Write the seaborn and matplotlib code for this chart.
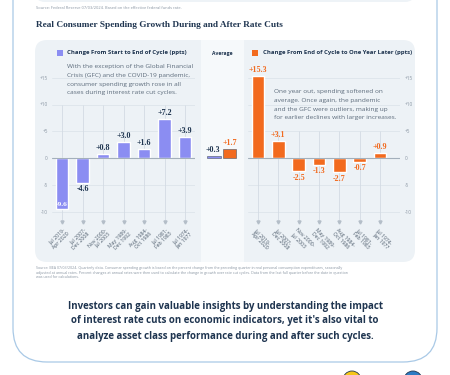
import matplotlib
matplotlib.use("Agg")
import matplotlib.pyplot as plt
from matplotlib.patches import FancyBboxPatch, Rectangle, Circle
import seaborn as sns
import pandas as pd
import numpy as np

# ---------------- data ----------------
cycle_start = ["Jul 2019-", "Jul 2007-", "Nov 2000-", "May 1989-", "Aug 1984-", "Jul 1981-", "Jul 1974-"]
cycle_end = ["Apr 2020", "Dec 2008", "Jul 2003", "Dec 1992", "Oct 1986", "Feb 1983", "Jan 1977"]
during_cycle = [-9.6, -4.6, 0.8, 3.0, 1.6, 7.2, 3.9]
after_cycle = [15.3, 3.1, -2.5, -1.3, -2.7, -0.7, 0.9]
avg_labels = ["During", "After"]
avg_values = [0.3, 1.7]
y_ticks = [15, 10, 5, 0, -5, -10]
y_tick_labels = ["+15", "+10", "+5", "0", "-5", "-10"]

title = "Real Consumer Spending Growth During and After Rate Cuts"
legend_left = "Change From Start to End of Cycle (ppts)"
legend_right = "Change From End of Cycle to One Year Later (ppts)"
note_left = ("With the exception of the Global Financial\nCrisis (GFC) and the COVID-19 pandemic,\n"
             "consumer spending growth rose in all\ncases during interest rate cut cycles.")
note_right = ("One year out, spending softened on\naverage. Once again, the pandemic\n"
              "and the GFC were outliers, making up\nfor earlier declines with larger increases.")
src_top = "Source: Federal Reserve 07/03/2024. Based on the effective federal funds rate."
src_bottom = ("Source: BEA 07/03/2024. Quarterly data. Consumer spending growth is based on the percent change from the preceding quarter in real personal consumption expenditures, seasonally\n"
              "adjusted at annual rates. Percent changes at annual rates were then used to calculate the change in growth over rate cut cycles. Data from the last full quarter before the date in question\n"
              "was used for calculations.")
takeaway = ("Investors can gain valuable insights by understanding the impact\n"
            "of interest rate cuts on economic indicators, yet it's also vital to\n"
            "analyze asset class performance during and after such cycles.")

# ---------------- style ----------------
sns.set_theme(style="white")
plt.rcParams["font.family"] = ["Open Sans", "DejaVu Sans"]

PURPLE = "#8b8df2"
ORANGE = "#f26a1e"
NAVY = "#1f3550"
GRAY = "#5d6c7c"
LIGHT = "#8a96a3"
SERIF = "Liberation Serif"

W, H = 450, 375
fig = plt.figure(figsize=(W / 100, H / 100), dpi=100)
fig.patch.set_facecolor("white")

bg = fig.add_axes([0, 0, 1, 1])
bg.set_xlim(0, W)
bg.set_ylim(H, 0)
bg.axis("off")

# outer frame and previous-section remnant
bg.add_patch(FancyBboxPatch((13, -60), 424, 422, boxstyle="round,pad=0,rounding_size=34",
                            fill=False, ec="#a9c9e6", lw=0.9))
bg.add_patch(FancyBboxPatch((35, -30), 380, 32, boxstyle="round,pad=0,rounding_size=10",
                            fc="#eef3f7", ec="none"))
# chart panel
bg.add_patch(FancyBboxPatch((35, 40), 380, 222, boxstyle="round,pad=0,rounding_size=12",
                            fc="#edf2f6", ec="none"))
bg.add_patch(Rectangle((201, 40), 43, 222, fc="#f6f9fb", ec="none"))

bg.text(36, 8, src_top, fontsize=2.9, color=LIGHT, va="center")
bg.text(36, 25, title, fontsize=6.7, color=NAVY, family=SERIF, weight="bold", va="center")

bg.add_patch(Rectangle((57, 49.5), 6, 6, fc=PURPLE, ec="none"))
bg.text(67, 52.5, legend_left, fontsize=4.3, color=NAVY, weight="bold", va="center")
bg.text(222.5, 53, "Average", fontsize=3.6, color=NAVY, weight="bold", va="center", ha="center")
bg.add_patch(Rectangle((252, 49.5), 6, 6, fc=ORANGE, ec="none"))
bg.text(263, 52.5, legend_right, fontsize=4.3, color=NAVY, weight="bold", va="center")

bg.text(67, 64, note_left, fontsize=4.65, color=GRAY, va="top", linespacing=1.95)
bg.text(274, 89, note_right, fontsize=4.65, color=GRAY, va="top", linespacing=1.95)

bg.text(36, 266, src_bottom, fontsize=2.6, color=LIGHT, va="top", linespacing=1.2)
bg.text(225, 321, takeaway, fontsize=7.0, color=NAVY, weight="bold", va="center", ha="center",
        linespacing=1.5)

# small logos at the bottom
bg.add_patch(Circle((352, 380), 9, fc="#f5c518", ec="#1f3550", lw=0.6))
bg.add_patch(Circle((413, 380), 9, fc="#2c7bc4", ec="#1f3550", lw=0.6))

# ---------------- axes helpers ----------------
YMIN, YMAX = -12, 17
def px_axes(x0, x1):
    y_top = 158 - YMAX * 5.35
    y_bot = 158 - YMIN * 5.35
    return fig.add_axes([x0 / W, 1 - y_bot / H, (x1 - x0) / W, (y_bot - y_top) / H])

def style_axes(ax, n, grid_top, right=False, xmax=None):
    ax.set_facecolor("none")
    for s in ax.spines.values():
        s.set_visible(False)
    ax.set_ylim(YMIN, YMAX)
    ax.set_xlim(-0.5, xmax if xmax is not None else n - 0.5)
    ax.set_yticks(y_ticks)
    ax.set_yticklabels(y_tick_labels, fontsize=3.4, color=LIGHT)
    if right:
        ax.yaxis.tick_right()
    ax.tick_params(length=0, pad=3)
    ax.set_xticks([])
    ax.set_xlabel("")
    ax.set_ylabel("")
    for t in y_ticks:
        if t != 0:
            ax.axhline(t, color="#d9e1e8", lw=0.5, zorder=0)
    ax.vlines(np.arange(n), YMIN, grid_top, color="#d3dbe3", lw=0.6, zorder=0)
    ax.plot(np.arange(n), [YMIN] * n, ls="none", marker="v", ms=2.2, color="#b4bec8",
            zorder=1, clip_on=False)

# ---------------- left chart ----------------
axL = px_axes(51.75, 195.25)
dfL = pd.DataFrame({"cycle": cycle_end, "value": during_cycle})
sns.barplot(data=dfL, x="cycle", y="value", order=cycle_end, color=PURPLE, saturation=1,
            width=0.63, ax=axL, zorder=2)
style_axes(axL, len(during_cycle), 10)
axL.axhline(0, color="#a3afbb", lw=0.8, zorder=3)
for i, v in enumerate(during_cycle):
    lab = f"{v:+.1f}"
    if v < -8:
        axL.text(i, v + 0.35, lab, ha="center", va="bottom", color="white", fontsize=5.4,
                 family=SERIF, weight="bold", zorder=4)
    elif v < 0:
        axL.text(i, v - 0.4, lab, ha="center", va="top", color=NAVY, fontsize=5.8,
                 family=SERIF, weight="bold", zorder=4)
    else:
        axL.text(i, v + 0.4, lab, ha="center", va="bottom", color=NAVY, fontsize=5.8,
                 family=SERIF, weight="bold", zorder=4)
for i, (a, b) in enumerate(zip(cycle_start, cycle_end)):
    axL.text(i + 0.05, YMIN - 1.0, f"{a}\n{b}", rotation=45, rotation_mode="anchor",
             ha="right", va="top", fontsize=3.7, color="#4c5b6b", linespacing=1.1,
             clip_on=False)

# ---------------- average chart ----------------
axA = px_axes(206.25, 237.25)
dfA = pd.DataFrame({"kind": avg_labels, "value": avg_values})
sns.barplot(data=dfA, x="kind", y="value", order=avg_labels, hue="kind",
            palette=[PURPLE, ORANGE], saturation=1, width=0.87, ax=axA, legend=False,
            edgecolor="#4a5563", linewidth=0.4, zorder=2)
axA.set_facecolor("none")
for s in axA.spines.values():
    s.set_visible(False)
axA.set_ylim(YMIN, YMAX)
axA.set_xlim(-0.5, 1.5)
axA.set_xticks([]); axA.set_yticks([])
axA.set_xlabel(""); axA.set_ylabel("")
for i, (v, c) in enumerate(zip(avg_values, [NAVY, ORANGE])):
    axA.text(i - (0.05 if i == 0 else 0), v + 0.4, f"{v:+.1f}", ha="center", va="bottom",
             color=c, fontsize=5.8, family=SERIF, weight="bold")

# ---------------- right chart ----------------
axR = px_axes(247.8, 400.4)
dfR = pd.DataFrame({"cycle": cycle_end, "value": after_cycle})
sns.barplot(data=dfR, x="cycle", y="value", order=cycle_end, color=ORANGE, saturation=1,
            width=0.63, ax=axR, zorder=2)
style_axes(axR, len(after_cycle), 5, right=True, xmax=7.0)
axR.axhline(0, color="#a3afbb", lw=0.8, zorder=3)
for i, v in enumerate(after_cycle):
    lab = f"{v:+.1f}"
    if v < 0:
        axR.text(i, v - 0.4, lab, ha="center", va="top", color=ORANGE, fontsize=5.8,
                 family=SERIF, weight="bold", zorder=4)
    else:
        axR.text(i, v + 0.4, lab, ha="center", va="bottom", color=ORANGE, fontsize=5.8,
                 family=SERIF, weight="bold", zorder=4, clip_on=False)
for i, (a, b) in enumerate(zip(cycle_start, cycle_end)):
    axR.text(i - 0.05, YMIN - 1.0, f"{a}\n{b}", rotation=-45, rotation_mode="anchor",
             ha="left", va="top", fontsize=3.7, color="#4c5b6b", linespacing=1.1,
             clip_on=False)

fig.savefig("out.png", dpi=100, facecolor="white")
